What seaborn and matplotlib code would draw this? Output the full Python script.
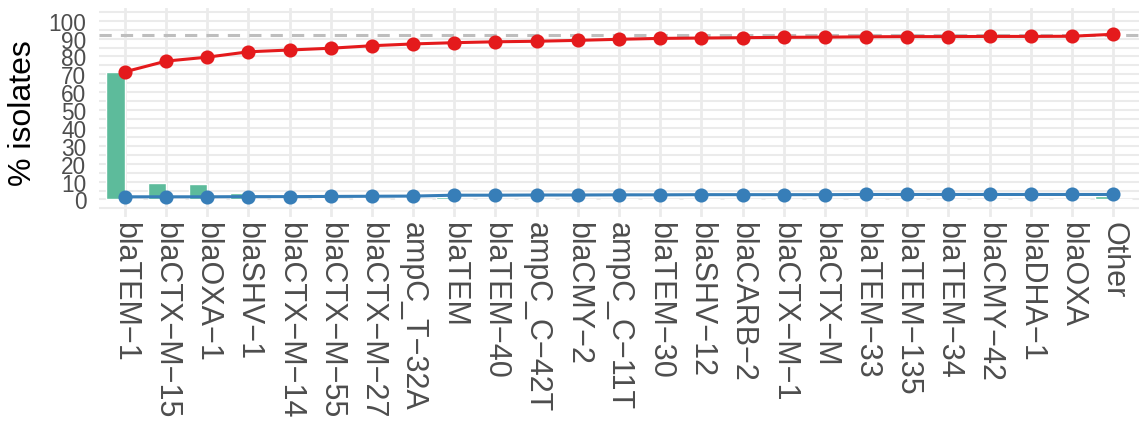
import matplotlib
matplotlib.use("Agg")
import matplotlib.pyplot as plt
from matplotlib import font_manager as fm
import seaborn as sns
import pandas as pd
import numpy as np
import os

genes = ["blaTEM−1", "blaCTX−M−15", "blaOXA−1", "blaSHV−1", "blaCTX−M−14",
         "blaCTX−M−55", "blaCTX−M−27", "ampC_T−32A", "blaTEM", "blaTEM−40",
         "ampC_C−42T", "blaCMY−2", "ampC_C−11T", "blaTEM−30", "blaSHV−12",
         "blaCARB−2", "blaCTX−M−1", "blaCTX−M", "blaTEM−33", "blaTEM−135",
         "blaTEM−34", "blaCMY−42", "blaDHA−1", "blaOXA", "Other"]
group_a = [71.5, 9.0, 8.4, 3.4, 1.1, 0.8, 0.8, 0.8, 1.3, 0.5, 0.5, 0.5, 0.5,
           0.4, 0.4, 0.4, 0.4, 0.4, 0.4, 0.4, 0.4, 0.4, 0.4, 0.4, 2.2]
group_b = [0.5, 0.5, 0.5, 0.5, 0.5, 0.5, 0.5, 0.5, 0.5, 0.5, 0.5, 0.5, 0.5,
           0.5, 0.5, 0.5, 0.5, 0.5, 0.5, 0.5, 0.5, 0.5, 0.5, 0.5, 0.5]
cumulative = [71.4, 77.4, 79.6, 82.6, 83.6, 84.6, 86.0, 87.0, 87.7, 88.2, 88.5,
              89.0, 89.6, 90.1, 90.3, 90.5, 90.7, 90.8, 91.0, 91.1, 91.1, 91.2,
              91.2, 91.3, 92.4]
second_line = [1.5, 1.5, 1.5, 1.6, 1.6, 1.7, 1.8, 1.9, 2.4, 2.4, 2.5, 2.5, 2.6,
               2.6, 2.7, 2.7, 2.7, 2.7, 2.8, 2.8, 2.8, 2.8, 2.8, 2.8, 2.8]
reference_level = 92.2
y_ticks = [0, 10, 20, 30, 40, 50, 60, 70, 80, 90, 100]

sns.set_theme(style="white")
plt.rcParams['font.family'] = ['Liberation Sans', 'DejaVu Sans']

# locate the regular (non-narrow) Liberation Sans file explicitly
lib_path = None
for f in fm.fontManager.ttflist:
    base = os.path.basename(f.fname)
    if base.lower() in ("liberationsans-regular.ttf", "liberationsans.ttf"):
        lib_path = f.fname
        break


def fprop(size):
    if lib_path:
        return fm.FontProperties(fname=lib_path, size=size)
    return fm.FontProperties(family=["Liberation Sans", "DejaVu Sans"],
                             stretch="normal", size=size)


bars = pd.DataFrame({
    "gene": genes * 2,
    "pct": group_a + group_b,
    "grp": ["A"] * len(genes) + ["B"] * len(genes),
})
lines = pd.DataFrame({"gene": genes, "cum": cumulative, "sec": second_line})

fig = plt.figure(figsize=(11.39, 4.31), dpi=100)
ax = fig.add_axes([99 / 1139, 1 - 218 / 431, (1139 - 99) / 1139, (218 - 9) / 431])

# grid
for yv in np.arange(-5, 106, 5):
    ax.axhline(yv, color="#EBEBEB", lw=1.5, zorder=0)
for i in range(len(genes)):
    ax.axvline(i, color="#EBEBEB", lw=2.0, zorder=0)

ax.axhline(reference_level, color="#BEBEBE", lw=2.2, ls=(0, (4, 3)), zorder=1)

sns.barplot(data=bars, x="gene", y="pct", hue="grp", order=genes,
            palette=["#5dbb9b", "#f58a5e"], width=0.9, dodge=True,
            legend=False, ax=ax, zorder=2, saturation=1)

sns.pointplot(data=lines, x="gene", y="sec", order=genes, color="#377eb8",
              markersize=8.5, linewidth=2.2, ax=ax)
sns.pointplot(data=lines, x="gene", y="cum", order=genes, color="#e41a1c",
              markersize=8.5, linewidth=2.2, ax=ax)

ax.set_xlim(-0.63, len(genes) - 1 + 0.63)
ax.set_ylim(-9.8, 107.1)
ax.set_yticks(y_ticks)
ax.set_yticklabels([str(t) for t in y_ticks], fontproperties=fprop(16.3),
                   color="#4D4D4D")
ax.set_xticks(range(len(genes)))
ax.set_xticklabels(genes, rotation=270, ha="center", va="top",
                   fontproperties=fprop(22.0), color="#4D4D4D")
ax.tick_params(axis="both", length=0)
ax.tick_params(axis="y", pad=9)
ax.tick_params(axis="x", pad=3)
ax.set_xlabel("")
ax.set_ylabel("% isolates", fontproperties=fprop(23), color="black", labelpad=8)
for s in ax.spines.values():
    s.set_visible(False)
ax.grid(False)

fig.savefig("out.png", dpi=100)
